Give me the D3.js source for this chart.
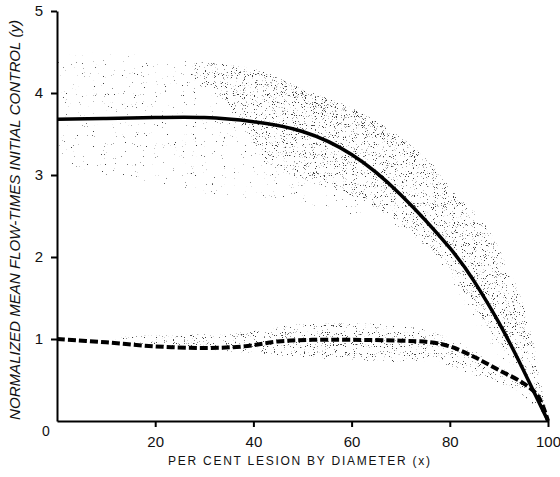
<html>
<head>
<script src="https://cdnjs.cloudflare.com/ajax/libs/d3/7.8.5/d3.min.js"></script>
<style>
  body { margin: 0; background: #fff; }
  text { font-family: "Liberation Sans", Arial, sans-serif; fill: #111; }
</style>
</head>
<body>
<script>
// mean curves
var solidX = [0, 10, 20, 30, 40, 50, 60, 70, 80, 85, 90, 95, 100];
var solidY = [3.68, 3.69, 3.70, 3.70, 3.65, 3.53, 3.25, 2.76, 2.11, 1.70, 1.20, 0.62, 0];

var dashX = [0, 10, 20, 30, 38, 45, 52, 60, 70, 76, 80, 85, 90, 95, 98, 100];
var dashY = [1.0, 0.96, 0.91, 0.89, 0.91, 0.97, 0.99, 0.99, 0.98, 0.96, 0.91, 0.78, 0.62, 0.46, 0.3, 0];

// stippled scatter envelopes
var upperX = [0, 20, 30, 40, 45, 50, 60, 66, 72, 77, 80, 85, 90, 94, 97, 100];
var upperTop = [4.5, 4.45, 4.38, 4.28, 4.17, 4.05, 3.82, 3.62, 3.37, 3.1, 2.85, 2.45, 2.1, 1.5, 0.95, 0];
var upperBot = [3.1, 2.9, 2.78, 2.7, 2.68, 2.62, 2.52, 2.45, 2.28, 2.05, 1.75, 1.2, 0.8, 0.55, 0.35, 0];

var coreX = [28, 35, 42, 50, 60, 70, 80, 90, 97, 100];
var coreTop = [4.38, 4.34, 4.26, 4.05, 3.82, 3.45, 2.85, 2.1, 0.95, 0];
var coreBot = [4.15, 3.85, 3.2, 2.95, 2.75, 2.4, 1.8, 0.95, 0.4, 0];

var edgeX = [36, 42, 50, 60, 66, 72, 77];
var edgeTop = [4.34, 4.26, 4.05, 3.82, 3.62, 3.37, 3.1];
var edgeBot = [4.25, 4.08, 3.85, 3.62, 3.44, 3.22, 3.0];

var lowerX = [12, 25, 35, 42, 50, 60, 70, 76, 82, 88, 94, 100];
var lowerTop = [1.03, 1.05, 1.06, 1.12, 1.18, 1.19, 1.16, 1.1, 0.95, 0.74, 0.5, 0];
var lowerBot = [0.97, 0.9, 0.85, 0.82, 0.78, 0.74, 0.72, 0.72, 0.62, 0.5, 0.36, 0];

var xTicks = [20, 40, 60, 80, 100];
var yTicks = [1, 2, 3, 4, 5];

var width = 560, height = 477;
var svg = d3.select('body').append('svg').attr('width', width).attr('height', height);
var x = d3.scaleLinear().domain([0, 100]).range([57, 548]);
var y = d3.scaleLinear().domain([0, 5]).range([421, 11]);

var defs = svg.append('defs');
function stipple(id, cut, seed) {
    var f = defs.append('filter').attr('id', id)
        .attr('filterUnits', 'userSpaceOnUse')
        .attr('x', 0).attr('y', 0).attr('width', width).attr('height', height)
        .attr('color-interpolation-filters', 'sRGB');
    f.append('feTurbulence').attr('type', 'fractalNoise')
        .attr('baseFrequency', 0.9).attr('numOctaves', 2).attr('seed', seed).attr('result', 'n');
    var k = 12;
    f.append('feColorMatrix').attr('in', 'n').attr('type', 'matrix')
        .attr('values', `0 0 0 0 0.25  0 0 0 0 0.25  0 0 0 0 0.25  ${k} 0 0 0 ${-k * cut}`)
        .attr('result', 'd');
    f.append('feComposite').attr('in', 'd').attr('in2', 'SourceGraphic').attr('operator', 'in');
}
stipple('sparse', 0.74, 3);
stipple('dense', 0.645, 7);
stipple('mid', 0.665, 11);
stipple('edge', 0.66, 19);

function band(xs, top, bot, filt) {
    var rows = xs.map((d, i) => ({x: d, t: top[i], b: bot[i]}));
    svg.append('path').datum(rows)
        .attr('d', d3.area().curve(d3.curveMonotoneX)
            .x(d => x(d.x)).y0(d => y(d.b)).y1(d => y(d.t)))
        .attr('fill', '#000')
        .attr('filter', `url(#${filt})`);
}
band(upperX, upperTop, upperBot, 'sparse');
band(coreX, coreTop, coreBot, 'dense');
band(edgeX, edgeTop, edgeBot, 'edge');
band(lowerX, lowerTop, lowerBot, 'mid');

// curves
var solidLine = d3.line().curve(d3.curveNatural).x(d => x(d[0])).y(d => y(d[1]));
var dashLine = d3.line().curve(d3.curveCatmullRom.alpha(0.5)).x(d => x(d[0])).y(d => y(d[1]));
svg.append('path').datum(d3.zip(solidX, solidY))
    .attr('d', solidLine).attr('fill', 'none').attr('stroke', '#000').attr('stroke-width', 3.5);
svg.append('path').datum(d3.zip(dashX, dashY))
    .attr('d', dashLine).attr('fill', 'none').attr('stroke', '#000')
    .attr('stroke-width', 4).attr('stroke-dasharray', '8,3');

// axes
var yAxis = svg.append('g').attr('transform', `translate(${x(0)},0)`)
    .call(d3.axisLeft(y).tickValues(yTicks).tickFormat(d3.format('d'))
        .tickSize(6).tickSizeOuter(0).tickPadding(8));
var xAxis = svg.append('g').attr('transform', `translate(0,${y(0)})`)
    .call(d3.axisBottom(x).tickValues(xTicks).tickFormat(d3.format('d'))
        .tickSize(6).tickSizeOuter(0).tickPadding(9));
[xAxis, yAxis].forEach(g => {
    g.select('.domain').attr('stroke', '#000').attr('stroke-width', 2);
    g.selectAll('.tick line').attr('stroke', '#000').attr('stroke-width', 2);
    g.selectAll('.tick text').style('font-size', '15px').attr('fill', '#111');
});
svg.append('text').attr('x', 46).attr('y', 436).attr('text-anchor', 'middle')
    .style('font-size', '14px').text('0');

svg.append('text')
    .attr('x', 299).attr('y', 465).attr('text-anchor', 'middle')
    .style('font-size', '12px')
    .attr('textLength', 262).attr('lengthAdjust', 'spacing')
    .text('PER CENT  LESION  BY  DIAMETER  (x)');

svg.append('text')
    .attr('transform', 'translate(20,220) rotate(-90)')
    .attr('text-anchor', 'middle')
    .style('font-size', '15px').style('font-style', 'italic')
    .attr('textLength', 400).attr('lengthAdjust', 'spacingAndGlyphs')
    .text('NORMALIZED  MEAN FLOW-TIMES  INITIAL  CONTROL (y)');
</script>
</body>
</html>
